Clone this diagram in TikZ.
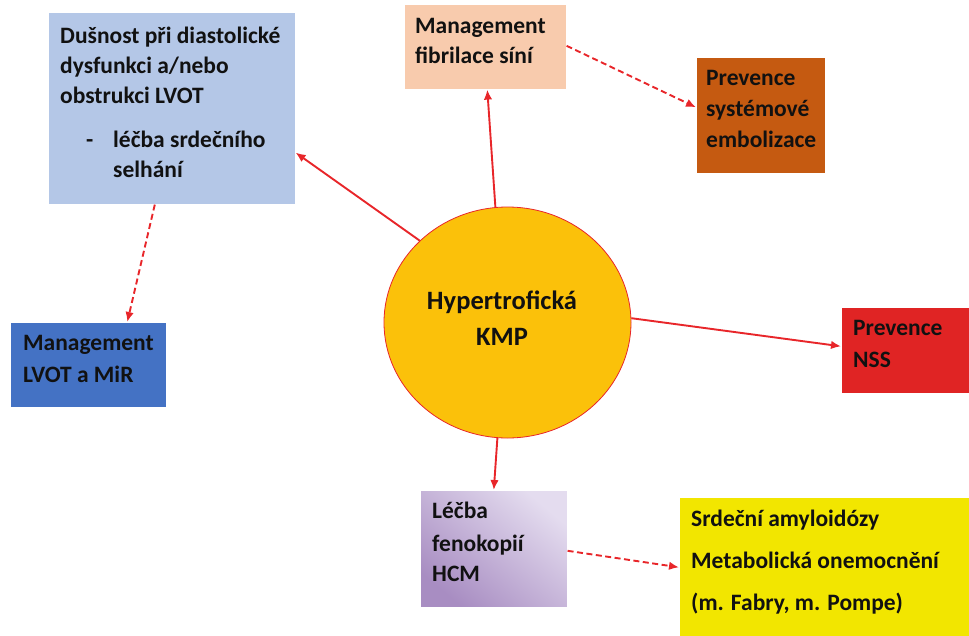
\documentclass[tikz,border=0pt]{standalone}
\usepackage{fontspec}
\setmainfont{Carlito}
\usetikzlibrary{arrows.meta,calc,shapes.geometric}
\definecolor{lblue}{HTML}{B4C7E7}
\definecolor{peach}{HTML}{F8CBAD}
\definecolor{rust}{HTML}{C55A11}
\definecolor{dblue}{HTML}{4472C4}
\definecolor{gold}{HTML}{FBC10A}
\definecolor{nssred}{HTML}{E02424}
\definecolor{purlight}{HTML}{E4DCEF}
\definecolor{purdark}{HTML}{A88DC2}
\definecolor{yell}{HTML}{F2E600}
\definecolor{arr}{HTML}{E8262A}
\definecolor{ink}{HTML}{111111}
\tikzset{
  box/.style={rectangle, inner sep=0pt, anchor=north west, draw=white, line width=0.6pt},
  txt/.style={anchor=base west, inner sep=0pt, text=ink, font=\fontsize{23.5}{28}\selectfont\bfseries},
  bigtxt/.style={txt, anchor=base, font=\fontsize{26.5}{32}\selectfont\bfseries},
  link/.style={draw=arr, line width=1.9pt, -{Latex[length=10pt,width=8.5pt]}},
  dlink/.style={link, dash pattern=on 6pt off 3.5pt},
}
\begin{document}
\begin{tikzpicture}[x=1pt,y=-1pt]
\useasboundingbox (0,0) rectangle (969,635);
% boxes
\node[box, fill=lblue, minimum width=247pt, minimum height=192pt] (dus) at (48,12) {};
\node[box, fill=peach, minimum width=162pt, minimum height=85pt] (fib) at (404,4) {};
\node[box, fill=rust, minimum width=129pt, minimum height=116pt] (emb) at (696,57) {};
\node[box, fill=dblue, minimum width=156pt, minimum height=85pt] (lvot) at (10,322) {};
\node[box, fill=nssred, minimum width=128pt, minimum height=86pt] (nss) at (841,307) {};
\node[box, shade, top color=purlight, bottom color=purdark, shading angle=-40, minimum width=147pt, minimum height=117pt] (feno) at (420,490) {};
\node[box, fill=yell, minimum width=290pt, minimum height=140pt] (amy) at (679,497) {};
\node[ellipse, draw=arr, line width=0.8pt, fill=gold, minimum width=247pt, minimum height=231pt, inner sep=0pt] (hkmp) at (507.5,322.5) {};
% texts
\node[txt] (t1a) at (60,43) {Dušnost při diastolické};
\node[txt] (t1b) at (60,73) {dysfunkci a/nebo};
\node[txt] (t1c) at (60,103) {obstrukci LVOT};
\node[txt] (t1d) at (86,147) {-};
\node[txt] (t1e) at (113,147) {léčba srdečního};
\node[txt] (t1f) at (113,177) {selhání};
\node[txt] (t2a) at (415,33) {Management};
\node[txt] (t2b) at (415,63) {fibrilace síní};
\node[txt] (t3a) at (706,85) {Prevence};
\node[txt] (t3b) at (706,116) {systémové};
\node[txt] (t3c) at (706,147) {embolizace};
\node[txt] (t4a) at (23,350) {Management};
\node[txt] (t4b) at (23,382) {LVOT a MiR};
\node[txt] (t5a) at (853,335) {Prevence};
\node[txt] (t5b) at (853,367) {NSS};
\node[txt] (t6a) at (432,518) {Léčba};
\node[txt] (t6b) at (432,551) {fenokopií};
\node[txt] (t6c) at (432,581) {HCM};
\node[txt] (t7a) at (691,526) {Srdeční amyloidózy};
\node[txt] (t7b) at (691,568) {Metabolická onemocnění};
\node[txt] (t7c) at (691,610) {(m. Fabry, m. Pompe)};
\node[bigtxt] (t8a) at (502,309) {Hypertrofická};
\node[bigtxt] (t8b) at (502,345) {KMP};
% connectors
\draw[link] (hkmp.137) -- ($(dus.south east)+(0,-52)$);
\draw[link] (hkmp.96.7) -- ($(fib.south)+(2,0)$);
\draw[link] (hkmp.2) -- ($(nss.west)+(0,-4)$);
\draw[link] (hkmp.265) -- (feno.north);
\draw[dlink] ($(fib.east)+(0,-1)$) -- ($(emb.west)+(0,-8)$);
\draw[dlink] ($(dus.south)+(-17,0)$) -- ($(lvot.north)+(39,0)$);
\draw[dlink] ($(feno.east)+(0,2)$) -- (amy.west);
\end{tikzpicture}
\end{document}
